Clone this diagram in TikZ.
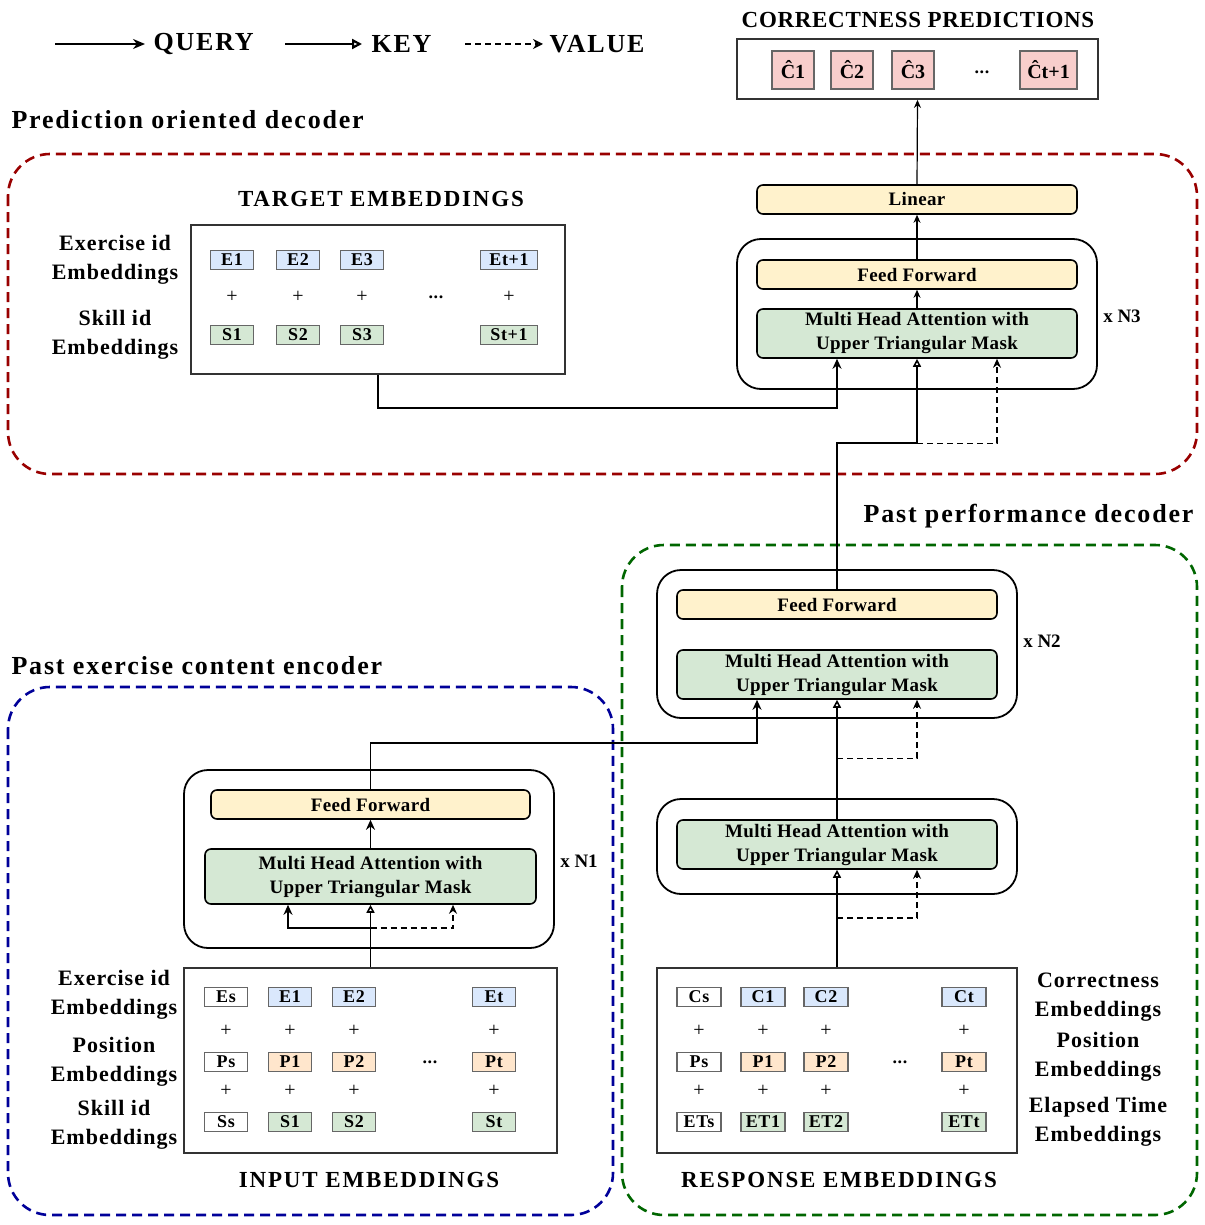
\documentclass[tikz,border=0pt]{standalone}
\usepackage{fontspec}
\setmainfont{Liberation Serif}
\usetikzlibrary{arrows.meta,calc}
\definecolor{idblue}{HTML}{DAE8FC}
\definecolor{posorg}{HTML}{FFE6CC}
\definecolor{skgreen}{HTML}{D5E8D4}
\definecolor{ffyel}{HTML}{FFF2CC}
\definecolor{predpink}{HTML}{F8CECC}
\definecolor{boxgray}{HTML}{666666}
\definecolor{decred}{HTML}{990000}
\definecolor{decgreen}{HTML}{006600}
\definecolor{encblue}{HTML}{000099}
\begin{document}
\begin{tikzpicture}[x=1pt,y=-1pt,
  blk/.style={draw, line width=1.6pt, rounded corners=6pt, minimum width=320pt, inner sep=0pt, align=center, font=\fontsize{19}{24}\selectfont\bfseries\addfontfeature{LetterSpace=2}},
  ff/.style={blk, fill=ffyel, minimum height=29pt},
  mha/.style={blk, fill=skgreen, minimum height=49pt},
  outer/.style={draw, line width=1.8pt, rounded corners=24pt, inner sep=0pt},
  frame/.style={draw=black!80, line width=1.8pt, inner sep=0pt},
  emb/.style={draw=boxgray, line width=1.3pt, minimum height=19pt, minimum width=43pt, inner sep=0pt, font=\fontsize{18}{18}\selectfont\bfseries\addfontfeature{LetterSpace=4}},
  lbl/.style={align=center, font=\fontsize{22}{29}\selectfont\bfseries\addfontfeature{LetterSpace=4.5}},
  title/.style={font=\fontsize{23}{23}\selectfont\bfseries\addfontfeature{LetterSpace=8}},
  head/.style={font=\fontsize{26}{26}\selectfont\bfseries\addfontfeature{LetterSpace=7}},
  plus/.style={font=\fontsize{20}{20}\selectfont},
  query/.style={line width=1.6pt, -{Stealth[length=10pt,width=9pt]}},
  key/.style={line width=1.6pt, -{Triangle[open,length=8pt,width=8pt]}},
  value/.style={line width=1.4pt, dash pattern=on 6pt off 4pt, -{Stealth[open,length=9pt,width=8pt]}},
  region/.style={line width=2.6pt, dash pattern=on 10pt off 6pt, rounded corners=42pt}]
\useasboundingbox (0,0) rectangle (1204,1225);

% legend
\node[head, anchor=west] (lq) at (150,44) {QUERY};
\node[head, anchor=west] (lk) at (368,44) {KEY};
\node[head, anchor=west] (lv) at (546,44) {VALUE};
\coordinate (lqs) at (55,44);
\coordinate (lks) at (285,44);
\coordinate (lvs) at (465,44);
\draw[query, line width=2.2pt, -{Stealth[length=12pt,width=10pt]}] (lqs) -- (145,44);
\draw[key, line width=2.2pt, -{Triangle[open,length=10pt,width=10pt]}] (lks) -- (362,44);
\draw[value, line width=2.2pt, -{Stealth[open,length=10pt,width=10pt]}] (lvs) -- (543,44);

% dashed regions
\draw[region, decred] (8,154) rectangle (1197,474);
\draw[region, decgreen] (622,545) rectangle (1197,1215);
\draw[region, encblue] (8,687) rectangle (613,1215);
\node[head, anchor=west] (tdec) at (8,120) {Prediction oriented decoder};
\node[head, anchor=east] (tpp) at (1197,516) {Past performance decoder};
\node[head, anchor=west] (tenc) at (8,666) {Past exercise content encoder};

% correctness predictions
\node[title, font=\fontsize{23}{23}\selectfont\bfseries\addfontfeature{LetterSpace=3}] (tpred) at (918,20) {CORRECTNESS PREDICTIONS};
\node[frame, minimum width=361pt, minimum height=60pt] (pred) at (917.5,69) {};
\foreach \lab/\x/\w in {Ĉ1/793/42, Ĉ2/852/42, Ĉ3/913/42, Ĉt+1/1048.5/57}
  \node[emb, fill=predpink, minimum width=\w pt, minimum height=38pt, font=\fontsize{20}{20}\selectfont\bfseries] at (\x,70) {\lab};
\node[emb, draw=none] (pdots) at (982,72) {...};

% prediction oriented decoder
\node[outer, minimum width=360pt, minimum height=150pt] (blk3) at (917,314) {};
\node[ff] (lin) at (917,199.5) {Linear};
\node[ff] (ff3) at (917,274.5) {Feed Forward};
\node[mha] (mha3) at (917,333.5) {Multi Head Attention with\\Upper Triangular Mask};
\node[lbl, font=\fontsize{19}{19}\selectfont\bfseries] (n3) at (1122,316) {x N3};

\node[title] (ttgt) at (381,199) {TARGET EMBEDDINGS};
\node[frame, minimum width=374pt, minimum height=149pt] (tgt) at (378,299.5) {};
\node[lbl] (lex3) at (115,260) {Exercise id\\Embeddings};
\node[lbl] (lsk3) at (115,335) {Skill id\\Embeddings};
\foreach \n/\x/\w in {1/232/43, 2/298/43, 3/362/43, t+1/509/57} {
  \node[emb, fill=idblue, minimum width=\w pt] (te\n) at (\x,260) {E\n};
  \node[plus] at (\x,297) {+};
  \node[emb, fill=skgreen, minimum width=\w pt] (ts\n) at (\x,335) {S\n};
}
\node[emb, draw=none] (tdots) at (436,297) {...};

% past performance decoder
\node[outer, minimum width=360pt, minimum height=148pt] (blk2) at (837,644) {};
\node[ff] (ff2) at (837,604.5) {Feed Forward};
\node[mha] (mha2) at (837,674.5) {Multi Head Attention with\\Upper Triangular Mask};
\node[lbl, font=\fontsize{19}{19}\selectfont\bfseries] (n2) at (1042,641) {x N2};
\node[outer, minimum width=360pt, minimum height=95pt] (blkr) at (837,846.5) {};
\node[mha] (mhar) at (837,844.5) {Multi Head Attention with\\Upper Triangular Mask};

\node[frame, minimum width=360pt, minimum height=185pt] (resp) at (837,1060.5) {};
\node[title] (tresp) at (839,1180) {RESPONSE EMBEDDINGS};
\foreach \x/\n/\ca/\cb/\cc in {699/s/white/white/white, 763/1/idblue/posorg/skgreen, 826/2/idblue/posorg/skgreen, 964/t/idblue/posorg/skgreen} {
  \node[emb, fill=\ca, minimum width=44pt] (rc\n) at (\x,997) {C\n};
  \node[plus] at (\x,1031) {+};
  \node[emb, fill=\cb, minimum width=44pt] (rp\n) at (\x,1062) {P\n};
  \node[plus] at (\x,1091) {+};
  \node[emb, fill=\cc, minimum width=44pt] (rt\n) at (\x,1122) {ET\n};
}
\node[emb, draw=none] (rdots) at (900,1062) {...};
\node[lbl] (lcor) at (1098,997) {Correctness\\Embeddings};
\node[lbl] (lpos2) at (1098,1057) {Position\\Embeddings};
\node[lbl] (let) at (1098,1122) {Elapsed Time\\Embeddings};

% past exercise content encoder
\node[outer, minimum width=370pt, minimum height=178pt] (blk1) at (369,859) {};
\node[ff, minimum width=319pt] (ff1) at (370.5,804.5) {Feed Forward};
\node[mha, minimum width=331pt, minimum height=55pt] (mha1) at (370.5,876.5) {Multi Head Attention with\\Upper Triangular Mask};
\node[lbl, font=\fontsize{19}{19}\selectfont\bfseries] (n1) at (579,861) {x N1};

\node[frame, minimum width=373pt, minimum height=185pt] (inp) at (370.5,1060.5) {};
\node[title] (tinp) at (369,1180) {INPUT EMBEDDINGS};
\foreach \x/\n/\ca/\cb/\cc in {226/s/white/white/white, 290/1/idblue/posorg/skgreen, 354/2/idblue/posorg/skgreen, 494/t/idblue/posorg/skgreen} {
  \node[emb, fill=\ca] (ie\n) at (\x,997) {E\n};
  \node[plus] at (\x,1031) {+};
  \node[emb, fill=\cb] (ip\n) at (\x,1062) {P\n};
  \node[plus] at (\x,1091) {+};
  \node[emb, fill=\cc] (is\n) at (\x,1122) {S\n};
}
\node[emb, draw=none] (idots) at (430,1062) {...};
\node[lbl] (lex1) at (114,995) {Exercise id\\Embeddings};
\node[lbl] (lpos1) at (114,1062) {Position\\Embeddings};
\node[lbl] (lsk1) at (114,1125) {Skill id\\Embeddings};

% connectors
\coordinate (j1) at ($(inp.north)+(0,-39)$);
\draw[key] (inp.north) -- (mha1.south);
\draw[query] (j1) -| ($(mha1.south)+(-82.5,0)$);
\draw[value] (j1) -| ($(mha1.south)+(82.5,0)$);
\draw[query] (mha1.north) -- (ff1.south);

\coordinate (jr) at ($(resp.north)+(0,-49)$);
\draw[key] (resp.north) -- (mhar.south);
\draw[value] (jr) -| ($(mhar.south)+(80,0)$);

\coordinate (j2) at ($(mhar.north)+(0,-61)$);
\draw[key] (mhar.north) -- (mha2.south);
\draw[value] (j2) -| ($(mha2.south)+(80,0)$);
\draw[query] (ff1.north) -- ++(0,-46) -| ($(mha2.south)+(-80,0)$);

\coordinate (j3) at ($(ff2.north)+(0,-146)$);
\draw[key] (ff2.north) -- (j3) -| (mha3.south);
\draw[value] (j3) -| ($(mha3.south)+(80,0)$);
\draw[query] (tgt.south) -- ++(0,33) -| ($(mha3.south)+(-80,0)$);
\draw[query, line width=1.2pt, -{Stealth[length=8pt,width=7pt]}] (mha3.north) -- (ff3.south);
\draw[query, line width=1.2pt, -{Stealth[length=8pt,width=7pt]}] (ff3.north) -- (lin.south);
\draw[query, line width=1.2pt, -{Stealth[length=8pt,width=7pt]}] (lin.north) -- (pred.south);
\end{tikzpicture}
\end{document}
